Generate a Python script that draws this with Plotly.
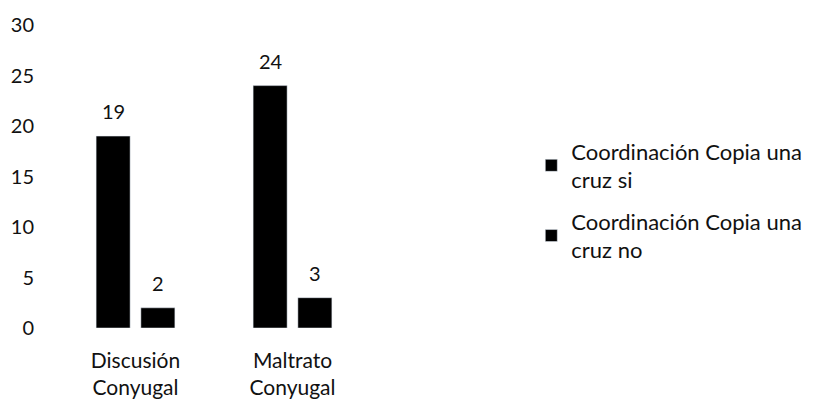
import plotly.graph_objects as go

categorias = ["Discusión<br>Conyugal", "Maltrato<br>Conyugal"]
serie_si = [19, 24]
serie_no = [2, 3]
nombre_si = "Coordinación Copia una<br>cruz si"
nombre_no = "Coordinación Copia una<br>cruz no"

fuente = dict(family="Lato, Open Sans, sans-serif", size=20, color="#111111")

fig = go.Figure([
    go.Bar(x=categorias, y=serie_si, name=nombre_si, marker_color="#000000",
           legendgroup="si"),
    go.Bar(x=categorias, y=serie_no, name=nombre_no, marker_color="#000000",
           legendgroup="no"),
])

# etiquetas de datos encima de cada barra
for desplaz, valores in ((-22, serie_si), (22, serie_no)):
    for cat, v in zip(categorias, valores):
        fig.add_annotation(x=cat, y=v, text=str(v), showarrow=False,
                           xshift=desplaz, yshift=25, yanchor="middle",
                           font=fuente)

fig.update_layout(
    width=824, height=400,
    margin=dict(l=49, r=0, t=17, b=80, autoexpand=False),
    paper_bgcolor="white", plot_bgcolor="white",
    font=fuente,
    barmode="group", bargap=0.43, bargroupgap=0.24,
    showlegend=True,
    legend=dict(x=0.612, y=0.42, xanchor="left", yanchor="middle",
                font=dict(size=22, color="#111111"), tracegroupgap=10,
                itemwidth=30, bgcolor="rgba(0,0,0,0)"),
)
fig.update_xaxes(domain=[0, 314 / 775], showline=False, showgrid=False,
                 ticks="", ticklabelstandoff=18,
                 tickfont=dict(fuente, size=21))
fig.update_yaxes(range=[0, 30], dtick=5, showline=False, showgrid=False,
                 zeroline=False, ticks="", ticklabelstandoff=22, tickfont=fuente)

fig.write_html("out.html")
